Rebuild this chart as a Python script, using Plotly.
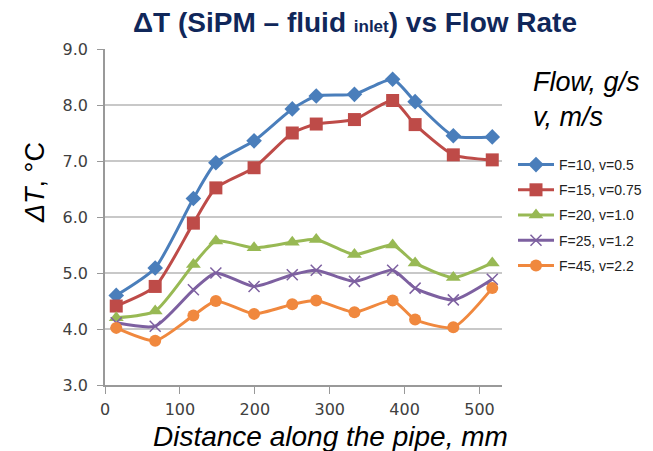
import plotly.graph_objects as go

distance_mm = [15, 67, 118, 148, 199, 250, 282, 333, 384, 414, 465, 517]
series_names = ["F=10, v=0.5", "F=15, v=0.75", "F=20, v=1.0", "F=25, v=1.2", "F=45, v=2.2"]
dT_f10 = [4.60, 5.09, 6.33, 6.97, 7.36, 7.93, 8.16, 8.19, 8.46, 8.06, 7.45, 7.43]
dT_f15 = [4.41, 4.76, 5.89, 6.52, 6.88, 7.50, 7.66, 7.74, 8.08, 7.65, 7.11, 7.02]
dT_f20 = [4.20, 4.32, 5.15, 5.57, 5.45, 5.55, 5.60, 5.33, 5.50, 5.18, 4.92, 5.18]
dT_f25 = [4.11, 4.05, 4.70, 5.00, 4.76, 4.97, 5.05, 4.85, 5.05, 4.73, 4.52, 4.89]
dT_f45 = [4.02, 3.79, 4.24, 4.50, 4.27, 4.44, 4.51, 4.30, 4.51, 4.17, 4.03, 4.73]
y_ticks = [3.0, 4.0, 5.0, 6.0, 7.0, 8.0, 9.0]
x_ticks = [0, 100, 200, 300, 400, 500]

colors = ["#4A7EBB", "#BE4B48", "#98B954", "#7D60A0", "#F0883E"]
symbols = ["diamond", "square", "triangle-up", "x-thin", "circle"]
msizes = [12, 13, 13, 11, 12]
all_series = [dT_f10, dT_f15, dT_f20, dT_f25, dT_f45]

W, H = 653, 451
L, R, T, B = 105, 151, 49, 66
PW, PH = W - L - R, H - T - B


def px(x):
    return (x - L) / PW


def py(y):
    return (H - B - y) / PH


fig = go.Figure()
for i, (name, ys) in enumerate(zip(series_names, all_series)):
    mk = dict(symbol=symbols[i], size=msizes[i], color=colors[i])
    if symbols[i] == "x-thin":
        mk["line"] = dict(color=colors[i], width=1.5)
    fig.add_trace(go.Scatter(
        x=distance_mm, y=ys, name=name, mode="lines+markers",
        line=dict(color=colors[i], width=3, shape="spline", smoothing=0.6),
        marker=mk, legendgroup=f"g{i}",
    ))

fig.update_layout(
    width=W, height=H,
    margin=dict(l=L, r=R, t=T, b=B, autoexpand=False),
    paper_bgcolor="white", plot_bgcolor="white",
    font=dict(family="DejaVu Sans", color="#404040"),
    title=dict(
        text="ΔT (SiPM – fluid <span style='font-size:17px'>inlet</span>) vs Flow Rate",
        font=dict(family="Liberation Sans", size=28, color="#10275A", weight="bold"),
        x=355 / W, xref="container", xanchor="center",
        y=1 - 22 / H, yref="container", yanchor="middle",
    ),
    xaxis=dict(
        range=[0, 530], tickvals=x_ticks, showgrid=False,
        showline=True, linecolor="#999999", linewidth=1.5,
        ticks="outside", ticklen=7, tickcolor="#999999",
        tickfont=dict(size=16, color="#404040"), zeroline=False,
        ticklabelstandoff=2,
    ),
    yaxis=dict(
        range=[3.0, 9.0], tickvals=y_ticks, tickformat=".1f",
        showgrid=True, gridcolor="#C8C8C8", gridwidth=1.5,
        showline=True, linecolor="#999999", linewidth=1.5,
        ticks="outside", ticklen=6, tickcolor="#999999",
        tickfont=dict(size=16, color="#404040"), zeroline=False,
        ticklabelstandoff=6,
    ),
    legend=dict(
        x=px(513), xref="paper", xanchor="left",
        y=py(149), yanchor="top",
        font=dict(family="Liberation Sans", size=14, color="#222222"),
        tracegroupgap=4, itemwidth=36,
        bgcolor="rgba(0,0,0,0)",
    ),
    showlegend=True,
)

fig.add_annotation(
    text="<i>ΔT</i>, °C", textangle=-90,
    x=px(35), y=py(183), xref="paper", yref="paper",
    showarrow=False, font=dict(family="Liberation Sans", size=27, color="#000000"),
    xanchor="center", yanchor="middle",
)
fig.add_annotation(
    text="<i>Distance along the pipe, mm</i>",
    x=px(330), y=py(437), xref="paper", yref="paper",
    showarrow=False, font=dict(family="Liberation Sans", size=28, color="#000000"),
    xanchor="center", yanchor="middle",
)
fig.add_annotation(
    text="<i>Flow, g/s<br>v, m/s</i>", align="left",
    x=px(531), y=py(99), xref="paper", yref="paper",
    showarrow=False, font=dict(family="Liberation Sans", size=27, color="#000000"),
    xanchor="left", yanchor="middle",
)

fig.write_html("out.html")
